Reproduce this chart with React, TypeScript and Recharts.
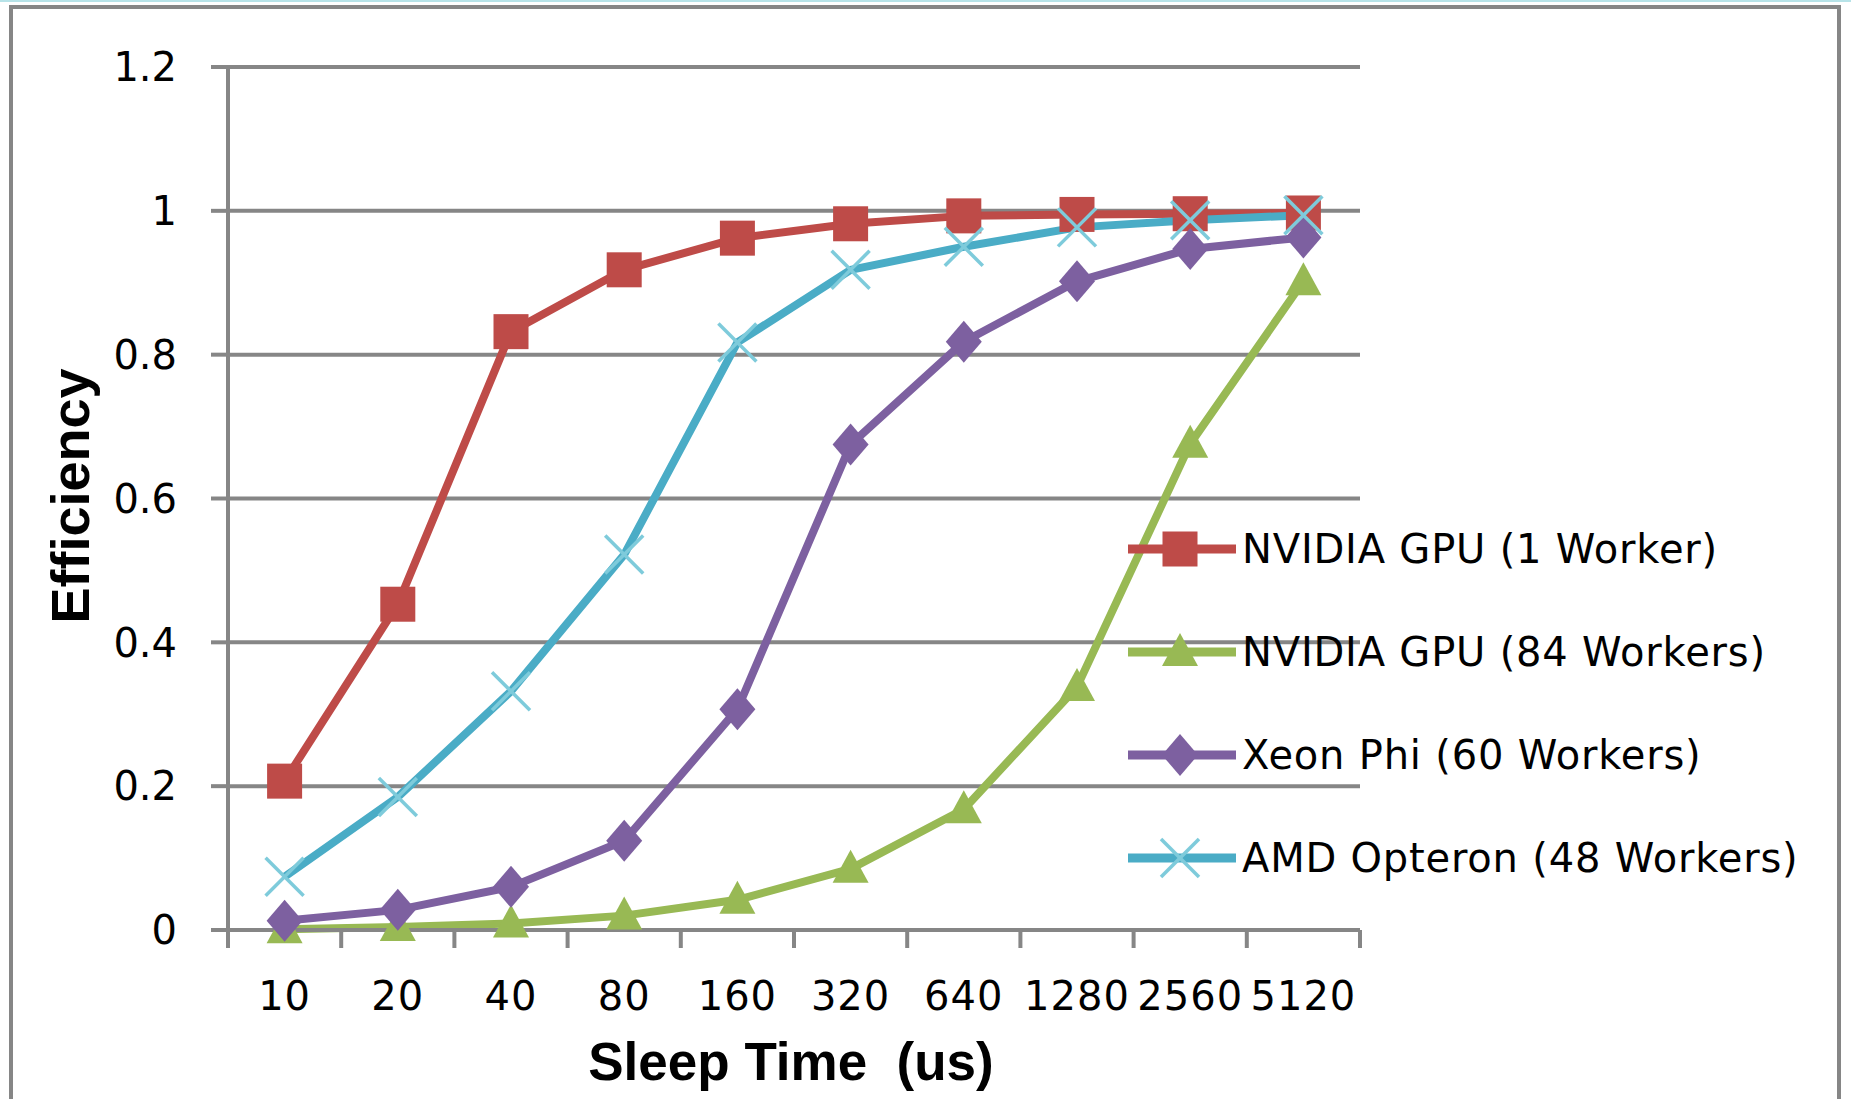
import React from 'react'
import { LineChart, Line, XAxis, YAxis, CartesianGrid, Legend } from 'recharts'

// sleep time categories (us)
const categories = ['10', '20', '40', '80', '160', '320', '640', '1280', '2560', '5120']

const gpuOneWorker = [0.207, 0.453, 0.832, 0.918, 0.962, 0.982, 0.993, 0.995, 0.996, 0.997]
const gpu84Workers = [0.001, 0.004, 0.009, 0.02, 0.042, 0.085, 0.168, 0.338, 0.676, 0.902]
const xeonPhi60 = [0.013, 0.028, 0.06, 0.124, 0.307, 0.675, 0.818, 0.902, 0.947, 0.963]
const amdOpteron48 = [0.074, 0.185, 0.332, 0.522, 0.817, 0.918, 0.95, 0.977, 0.987, 0.994]

const yTicks = [0, 0.2, 0.4, 0.6, 0.8, 1, 1.2]

const GRAY = '#868686'
const TICK_FONT = 'DejaVu Sans'
const TITLE_FONT = 'Liberation Sans'

const series = [
  { key: 'gpu1', name: 'NVIDIA GPU (1 Worker)', color: '#BE4B48', marker: 'square' },
  { key: 'gpu84', name: 'NVIDIA GPU (84 Workers)', color: '#98B954', marker: 'triangle' },
  { key: 'phi', name: 'Xeon Phi (60 Workers)', color: '#7D60A0', marker: 'diamond' },
  { key: 'amd', name: 'AMD Opteron (48 Workers)', color: '#4AACC6', marker: 'cross' },
]

const data = categories.map((label, i) => ({
  x: i + 0.5,
  label,
  gpu1: gpuOneWorker[i],
  gpu84: gpu84Workers[i],
  phi: xeonPhi60[i],
  amd: amdOpteron48[i],
}))

// ticks on band edges (integers) and labels on band centres (halves)
const xTicks: number[] = []
categories.forEach((_, i) => {
  xTicks.push(i, i + 0.5)
})
xTicks.push(categories.length)

function marker(kind: string, cx: number, cy: number, color: string, key?: any) {
  if (cx == null || cy == null) return <g key={key} />
  if (kind === 'square') {
    return <rect key={key} x={cx - 17.5} y={cy - 17.5} width={35} height={35} fill={color} />
  }
  if (kind === 'triangle') {
    return (
      <polygon
        key={key}
        points={`${cx},${cy - 19} ${cx + 18},${cy + 14} ${cx - 18},${cy + 14}`}
        fill={color}
      />
    )
  }
  if (kind === 'diamond') {
    return (
      <polygon
        key={key}
        points={`${cx},${cy - 21} ${cx + 18},${cy} ${cx},${cy + 21} ${cx - 18},${cy}`}
        fill={color}
      />
    )
  }
  return (
    <g key={key} stroke="#7ECBDB" strokeWidth={3.5}>
      <line x1={cx - 19} y1={cy - 19} x2={cx + 19} y2={cy + 19} />
      <line x1={cx - 19} y1={cy + 19} x2={cx + 19} y2={cy - 19} />
    </g>
  )
}

const XTick = (props: any) => {
  const { x, y, payload } = props
  const v = payload.value
  if (Number.isInteger(v)) {
    return <line x1={x} x2={x} y1={y} y2={y + 18} stroke={GRAY} strokeWidth={4} />
  }
  return (
    <text
      x={x}
      y={y + 80}
      textAnchor="middle"
      fontFamily={TICK_FONT}
      fontSize={40}
      letterSpacing={1}
      fill="#000"
    >
      {categories[Math.floor(v)]}
    </text>
  )
}

const LegendBox = (props: any) => {
  const items = [...(props.payload || [])].sort(
    (a: any, b: any) =>
      series.findIndex((s) => s.key === a.dataKey) - series.findIndex((s) => s.key === b.dataKey)
  )
  return (
    <div>
      {items.map((entry: any) => {
        const s = series.find((d) => d.key === entry.dataKey) || series[0]
        return (
          <div key={s.key} style={{ height: 103, display: 'flex', alignItems: 'center' }}>
            <svg width={108} height={44} style={{ display: 'block' }}>
              <line x1={0} x2={108} y1={22} y2={22} stroke={s.color} strokeWidth={9} />
              {marker(s.marker, 52, 22, s.color)}
            </svg>
            <span
              style={{
                marginLeft: 6,
                fontFamily: TICK_FONT,
                fontSize: 40,
                lineHeight: '44px',
                letterSpacing: 0.8,
                color: '#000',
                whiteSpace: 'nowrap',
              }}
            >
              {entry.value}
            </span>
          </div>
        )
      })}
    </div>
  )
}

export default function App() {
  return (
    <div style={{ position: 'absolute', left: 0, top: 0, width: 1851, height: 1099, background: '#fff', overflow: 'hidden' }}>
      <svg width={1851} height={1099} style={{ position: 'absolute', left: 0, top: 0 }}>
        <rect x={0} y={0} width={1851} height={2} fill="#B7E3E8" />
        <path d="M11,1099 L11,7 L1839,7 L1839,1099" fill="none" stroke={GRAY} strokeWidth={4} />
        <text
          transform="translate(70,496) rotate(-90)"
          textAnchor="middle"
          dominantBaseline="central"
          fontFamily={TITLE_FONT}
          fontWeight="bold"
          fontSize={54}
          fill="#000"
        >
          Efficiency
        </text>
        <text
          x={791}
          y={1080}
          textAnchor="middle"
          fontFamily={TITLE_FONT}
          fontWeight="bold"
          fontSize={53}
          fill="#000"
          style={{ whiteSpace: 'pre' }}
        >
          {'Sleep Time  (us)'}
        </text>
      </svg>
      <div style={{ position: 'absolute', left: 0, top: 0 }}>
        <LineChart width={1851} height={1099} data={data} margin={{ top: 67, right: 491, bottom: 0, left: 0 }}>
          <CartesianGrid horizontal vertical={false} stroke={GRAY} strokeWidth={4} />
          <XAxis
            dataKey="x"
            type="number"
            domain={[0, categories.length]}
            ticks={xTicks}
            interval={0}
            height={169}
            tickSize={0}
            tickMargin={0}
            tickLine={false}
            axisLine={{ stroke: GRAY, strokeWidth: 4 }}
            tick={<XTick />}
          />
          <YAxis
            type="number"
            domain={[0, 1.2]}
            ticks={yTicks}
            width={228}
            tickSize={17}
            tickMargin={34}
            tickLine={{ stroke: GRAY, strokeWidth: 4 }}
            axisLine={{ stroke: GRAY, strokeWidth: 4 }}
            tick={{ fontFamily: TICK_FONT, fontSize: 40, fill: '#000' }}
            tickFormatter={(v: number) => String(Number(v.toFixed(1)))}
          />
          <Legend
            verticalAlign="middle"
            align="center"
            layout="vertical"
            content={<LegendBox />}
            wrapperStyle={{ position: 'absolute', left: 1128, top: 497, width: 720 }}
          />
          {series.map((s) => (
            <Line
              key={s.key}
              type="linear"
              dataKey={s.key}
              name={s.name}
              stroke={s.color}
              strokeWidth={8}
              strokeLinejoin="round"
              isAnimationActive={false}
              activeDot={false}
              dot={(p: any) => marker(s.marker, p.cx, p.cy, s.color, `${s.key}-${p.index}`)}
            />
          ))}
        </LineChart>
      </div>
    </div>
  )
}
